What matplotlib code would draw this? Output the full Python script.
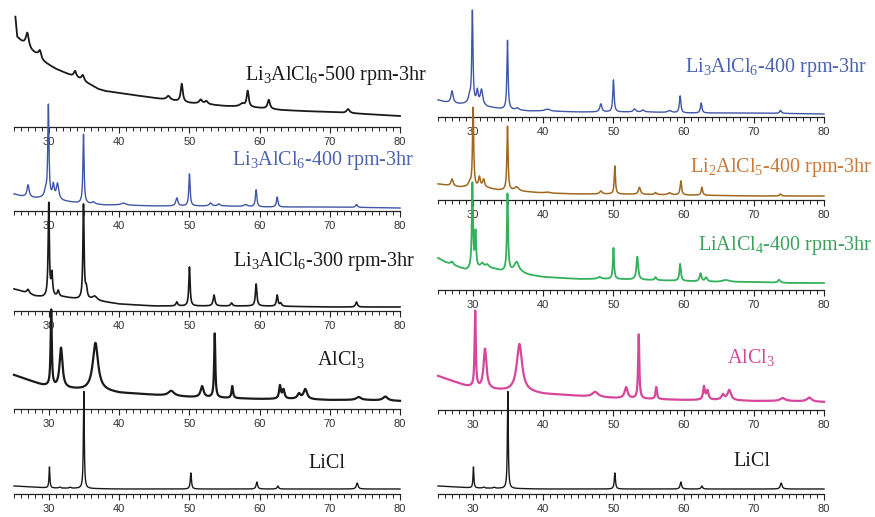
import numpy as np
import matplotlib
matplotlib.use("Agg")
import matplotlib.pyplot as plt
from matplotlib.ticker import MultipleLocator

plt.rcParams['mathtext.fontset'] = 'custom'
plt.rcParams['mathtext.rm'] = 'Liberation Serif'
plt.rcParams['mathtext.it'] = 'Liberation Serif:italic'
plt.rcParams['mathtext.bf'] = 'Liberation Serif:bold'

# ---------------- data (2theta in degrees, intensity in a.u.) ----------------
# Li3AlCl6 - 500 rpm - 3 hr
l500_bg_x = [25.2, 25.45, 26.0, 26.5, 27.5, 28.3, 29.0, 30.0, 31.0, 32.0, 33.0, 34.0, 35.0, 36.0,
             37.0, 38.0, 40.0, 42.0, 44.0, 46.0, 48.0, 50.0, 52.0, 55.0, 58.0, 60.0, 63.0, 66.0,
             70.0, 75.0, 80.0]
l500_bg_y = [110, 90, 86, 83, 76, 72, 66, 62, 58, 55, 52, 49, 45, 42, 38, 36, 34, 32, 30, 28, 26,
             24, 23, 21, 20, 19, 17, 16, 15, 13, 11]
l500_pk_x = [26.9, 28.7, 33.7, 34.8, 47.0, 48.9, 51.6, 52.4, 57.5, 58.3, 61.3, 72.6]
l500_pk_h = [14, 8, 6, 6, 4, 18, 4, 3, 3, 16, 9, 4]
l500_pk_w = [0.5, 0.5, 0.4, 0.5, 0.6, 0.35, 0.5, 0.5, 0.8, 0.35, 0.4, 0.5]

# Li3AlCl6 - 400 rpm - 3 hr
l400_bg_x = [25, 26, 28, 29, 31, 32, 33, 34, 36, 38, 40, 45, 50, 55, 60, 70, 80]
l400_bg_y = [17, 15, 13, 13, 12, 10, 9, 8, 7, 6, 6, 5, 5, 5, 4, 4, 3]
l400_pk_x = [27.0, 29.5, 29.9, 30.6, 31.2, 34.9, 36.3, 40.6, 48.2, 50.0, 53.0, 54.2, 58.0,
             59.5, 62.5, 73.8]
l400_pk_h = [12, 7, 92, 13, 15, 69, 2, 2, 8, 32, 3, 2, 2, 17, 10, 3]
l400_pk_w = [0.35, 0.4, 0.2, 0.3, 0.4, 0.2, 0.5, 0.8, 0.35, 0.22, 0.4, 0.4, 0.6, 0.25, 0.25, 0.3]

# Li3AlCl6 - 300 rpm - 3 hr
l300_bg_x = [25, 26, 28, 29, 32, 33, 34, 36, 38, 40, 45, 50, 55, 60, 70, 80]
l300_bg_y = [22, 20, 15, 14, 14, 13, 12, 11, 9, 7, 5, 5, 5, 5, 4, 4]
l300_pk_x = [27.0, 29.95, 30.4, 31.3, 34.9, 35.3, 36.5, 48.2, 50.0, 53.5, 56.0, 59.5, 62.5,
             63.0, 73.8]
l300_pk_h = [4, 93, 22, 6, 94, 10, 4, 4, 39, 11, 3, 22, 11, 3, 5]
l300_pk_w = [0.4, 0.2, 0.25, 0.3, 0.2, 0.3, 0.8, 0.3, 0.22, 0.3, 0.3, 0.25, 0.25, 0.3, 0.3]

# Li2AlCl5 - 400 rpm - 3 hr
l2_bg_x = [25, 26, 28, 29, 32, 33.5, 36, 38, 40, 45, 50, 60, 70, 80]
l2_bg_y = [16, 15, 13, 13, 12, 10, 9, 8, 7, 6, 6, 5, 4, 4]
l2_pk_x = [27.0, 29.5, 30.0, 30.9, 31.5, 34.9, 36.2, 40.5, 48.2, 50.2, 53.7, 56.0, 58.0,
           59.6, 62.6, 73.8]
l2_pk_h = [7, 4, 79, 10, 8, 64, 4, 1, 3, 28, 7, 2, 2, 14, 8, 2]
l2_pk_w = [0.35, 0.4, 0.2, 0.3, 0.35, 0.2, 0.7, 0.8, 0.4, 0.2, 0.35, 0.3, 0.5, 0.25, 0.25, 0.3]

# LiAlCl4 - 400 rpm - 3 hr
l1_bg_x = [25, 26, 27.5, 29, 31, 32, 33, 34, 36, 37, 38, 40, 45, 50, 55, 60, 65, 70, 75, 80]
l1_bg_y = [32, 28, 24, 20, 22, 22, 21, 19, 18, 17, 15, 13, 11, 11, 10, 9, 8, 8, 7, 7]
l1_pk_x = [27.0, 29.9, 30.35, 31.3, 32.0, 34.9, 36.2, 48.0, 50.0, 53.4, 56.0, 59.5, 62.4,
           63.2, 66.0, 73.6]
l1_pk_h = [3, 85, 35, 4, 3, 77, 10, 2, 31, 23, 3, 17, 8, 4, 2, 3]
l1_pk_w = [0.4, 0.2, 0.2, 0.5, 0.6, 0.2, 0.8, 0.6, 0.2, 0.3, 0.3, 0.25, 0.3, 0.4, 1.2, 0.4]

# AlCl3
al_bg_x = [25, 27, 29, 31, 33, 35, 37, 39, 40, 43, 45, 50, 55, 60, 65, 70, 75, 80]
al_bg_y = [34, 29, 24, 21, 20, 19, 19, 17, 16, 15, 14, 12, 11, 10, 10, 9, 9, 8]
al_pk_x = [30.3, 31.7, 36.6, 47.4, 51.8, 53.6, 56.1, 62.9, 63.4, 65.6, 66.5, 74.1, 77.9]
al_pk_h = [76, 40, 47, 5, 11, 64, 12, 13, 9, 5, 10, 3, 4]
al_pk_w = [0.2, 0.5, 0.9, 1.0, 0.5, 0.2, 0.25, 0.3, 0.35, 0.5, 0.6, 0.8, 0.8]

# LiCl
licl_bg_x = [25, 30, 40, 60, 80]
licl_bg_y = [8, 6, 5, 5, 5]
licl_pk_x = [30.05, 31.5, 33.0, 34.95, 50.2, 59.6, 62.6, 73.9]
licl_pk_h = [21, 1, 1, 97, 16, 7, 3, 6]
licl_pk_w = [0.15, 0.3, 0.3, 0.15, 0.2, 0.25, 0.25, 0.3]

xticks_major = [30, 40, 50, 60, 70, 80]


def pattern(bg_x, bg_y, pk_x, pk_h, pk_w):
    x = np.linspace(max(25.0, bg_x[0]), 80.0, 4401)
    y = np.interp(x, bg_x, bg_y)
    for c, a, w in zip(pk_x, pk_h, pk_w):
        y = y + a / (1.0 + (2.0 * (x - c) / w) ** 2)
    return x, y


W, H = 875, 517
fig = plt.figure(figsize=(W / 100, H / 100), dpi=100)

BLACK = '#1a1a1a'
BLUE = '#3f56a6'
BROWN = '#a0681e'
GREEN = '#35b05a'
PINK = '#d6479c'

l500 = pattern(l500_bg_x, l500_bg_y, l500_pk_x, l500_pk_h, l500_pk_w)
l400 = pattern(l400_bg_x, l400_bg_y, l400_pk_x, l400_pk_h, l400_pk_w)
l300 = pattern(l300_bg_x, l300_bg_y, l300_pk_x, l300_pk_h, l300_pk_w)
l2 = pattern(l2_bg_x, l2_bg_y, l2_pk_x, l2_pk_h, l2_pk_w)
l1 = pattern(l1_bg_x, l1_bg_y, l1_pk_x, l1_pk_h, l1_pk_w)
al = pattern(al_bg_x, al_bg_y, al_pk_x, al_pk_h, al_pk_w)
licl = pattern(licl_bg_x, licl_bg_y, licl_pk_x, licl_pk_h, licl_pk_w)

# panel: (x0px, x1px, axis_y_px, data, line color, lw, label, label color, label_x, label_baseline)
panels = [
    (14, 400, 127, l500, BLACK, 1.3, r'Li$_3$AlCl$_6$-500 rpm-3hr', BLACK, 245, 80),
    (14, 400, 211, l400, BLUE, 1.0, r'Li$_3$AlCl$_6$-400 rpm-3hr', '#4a62b0', 232, 165),
    (14, 400, 311, l300, BLACK, 1.2, r'Li$_3$AlCl$_6$-300 rpm-3hr', BLACK, 233, 266),
    (14, 400, 409, al, BLACK, 1.6, r'AlCl$_3$', BLACK, 317, 365),
    (14, 400, 494, licl, BLACK, 1.0, r'LiCl', BLACK, 308, 468),
    (438, 824, 117, l400, BLUE, 1.0, r'Li$_3$AlCl$_6$-400 rpm-3hr', '#4a62b0', 685, 72),
    (438, 824, 200, l2, BROWN, 1.1, r'Li$_2$AlCl$_5$-400 rpm-3hr', '#c8783a', 690, 172),
    (438, 824, 290, l1, GREEN, 1.3, r'LiAlCl$_4$-400 rpm-3hr', '#3ba05c', 698, 250),
    (438, 824, 410, al, PINK, 1.6, r'AlCl$_3$', '#d04a9e', 727, 363),
    (438, 824, 494, licl, BLACK, 1.0, r'LiCl', BLACK, 733, 466),
]

AX_H = 60  # axes height in px, 1 intensity unit per px
for x0, x1, yb, (xx, yy), col, lw, lab, lcol, lx, ly in panels:
    ax = fig.add_axes([x0 / W, 1 - yb / H, (x1 - x0) / W, AX_H / H])
    ax.patch.set_visible(False)
    ax.plot(xx, yy, color=col, lw=lw, clip_on=False, solid_joinstyle='round')
    ax.set_xlim(25, 80)
    ax.set_ylim(0, AX_H)
    for s in ['top', 'left', 'right']:
        ax.spines[s].set_visible(False)
    ax.spines['bottom'].set_linewidth(0.9)
    ax.spines['bottom'].set_color('#222222')
    ax.set_yticks([])
    ax.set_xticks(xticks_major)
    ax.set_xticklabels([str(t) for t in xticks_major])
    ax.xaxis.set_minor_locator(MultipleLocator(1))
    ax.tick_params(axis='x', which='major', direction='out', length=4.5, width=0.8,
                   color='#222222', pad=3, labelsize=8, labelcolor='#333333')
    ax.tick_params(axis='x', which='minor', direction='out', length=3, width=0.7,
                   color='#222222')
    for t in ax.get_xticklabels():
        t.set_fontfamily('Liberation Sans')
    fig.text(lx / W, 1 - ly / H, lab, color=lcol, fontsize=14.5,
             family='Liberation Serif', ha='left', va='baseline')

fig.savefig('out.png', dpi=100)
